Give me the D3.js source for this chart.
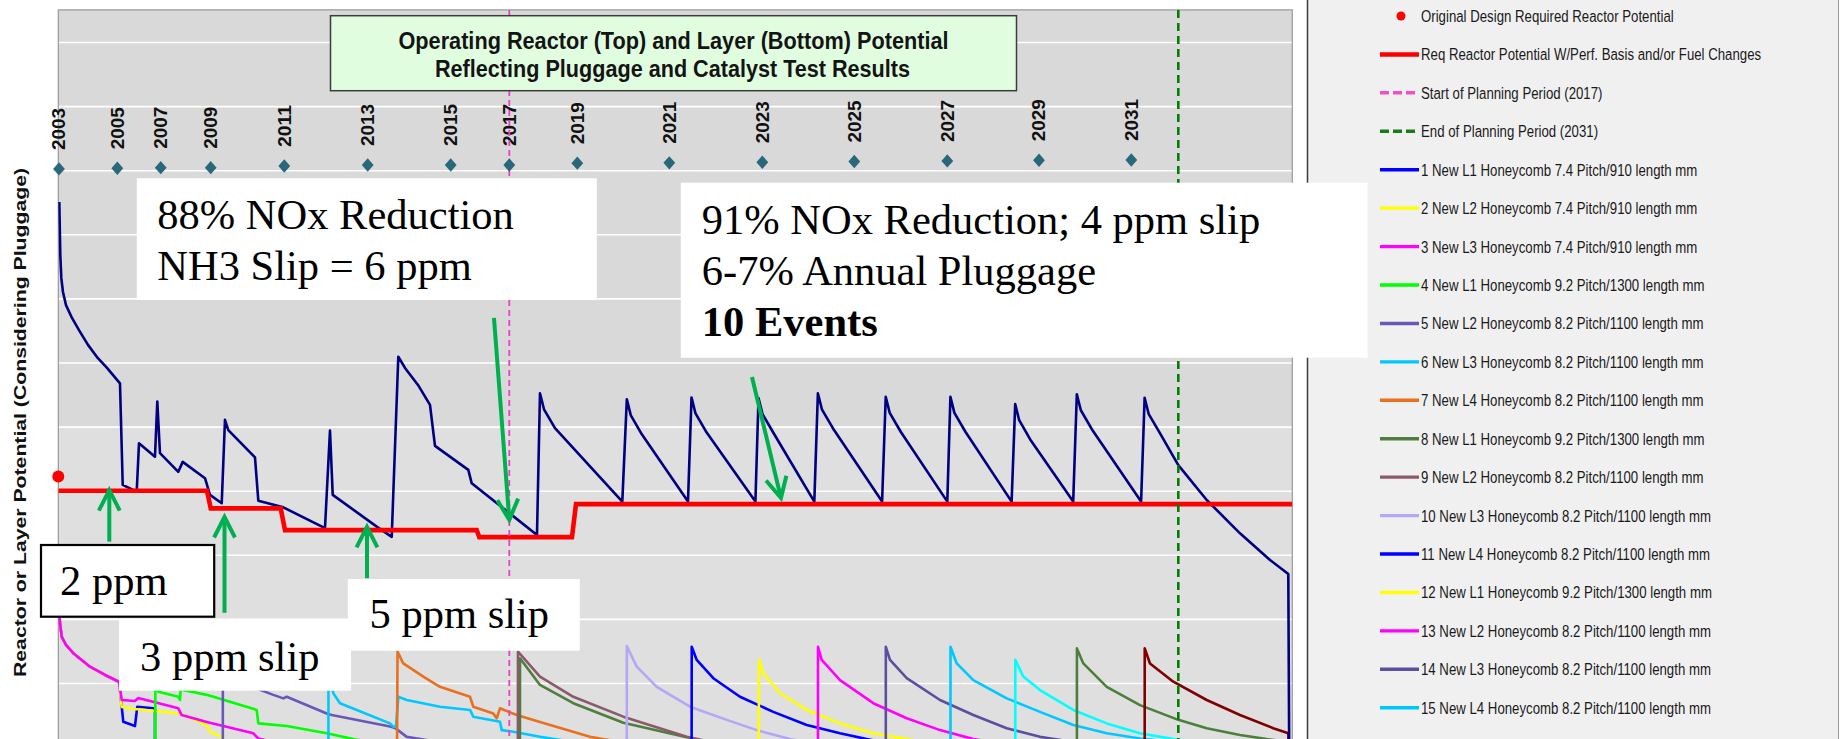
<!DOCTYPE html>
<html>
<head>
<meta charset="utf-8">
<script src="https://cdn.jsdelivr.net/npm/d3@7/dist/d3.min.js"></script>
<style>
  html, body { margin:0; padding:0; background:#ffffff; overflow:hidden; }
  svg { display:block; }
</style>
</head>
<body>
<svg id="chart" width="1843" height="739"></svg>
<script>
// ---------------- DATA (x = cumulative operating hours, y = potential) ----------------
const yearLabels = ["2003","2005","2007","2009","2011","2013","2015","2017","2019","2021","2023","2025","2027","2029","2031"];
const yearHours = [130, 11210, 19460, 28960, 42940, 58790, 74560, 85690, 98610, 116090, 133760, 151240, 168910, 186330, 203870];
const yearMarkerPotential = [2.004, 2.006, 2.008, 2.008, 2.013, 2.016, 2.016, 2.016, 2.022, 2.023, 2.025, 2.027, 2.029, 2.031, 2.032];

const gridTicks = [0.2, 0.4, 0.6, 0.8, 1.0, 1.2, 1.4, 1.6, 1.8, 2.0, 2.2, 2.4];

const planningStartHours = 85690;
const planningEndHours = 212800;

const originalDesign = [[0, 1.044]];

const requiredPotential = [[0,1.0],[28250,1.0],[28960,0.945],[42260,0.945],[43070,0.877],[79500,0.877],[79990,0.855],[97600,0.855],[98360,0.958],[234460,0.958]];

const reactorPotential = [[190,1.901],[380,1.735],[570,1.664],[890,1.620],[1460,1.579],[2600,1.539],[3930,1.501],[5640,1.455],[7350,1.417],[9250,1.383],[11720,1.335],[12240,1.018],[14900,0.997],[15330,1.148],[18370,1.106],[18810,1.278],[19320,1.117],[22800,1.059],[23640,1.090],[27870,1.039],[28820,0.987],[31050,0.961],[31670,1.221],[32300,1.189],[37370,1.104],[38000,0.969],[42750,0.948],[50670,0.883],[51620,1.188],[52140,0.987],[60500,0.888],[63350,0.856],[64600,1.418],[65870,1.383],[68340,1.330],[70620,1.268],[71570,1.140],[77900,1.065],[78550,1.023],[90950,0.862],[91520,1.304],[92280,1.254],[94370,1.195],[107160,0.966],[108020,1.285],[108780,1.235],[110870,1.176],[119640,0.966],[120310,1.291],[121070,1.241],[123160,1.182],[132450,0.966],[133040,1.289],[133800,1.239],[135890,1.180],[143640,0.966],[144320,1.304],[145080,1.254],[147170,1.195],[156520,0.966],[157210,1.293],[157970,1.243],[160060,1.184],[168910,0.966],[169500,1.293],[170260,1.243],[172350,1.184],[181130,0.966],[181810,1.270],[182570,1.220],[184660,1.160],[192830,0.966],[193520,1.301],[194280,1.251],[196370,1.192],[205730,0.966],[206400,1.290],[207160,1.240],[209250,1.181],[212800,1.080],[218200,0.971],[224520,0.867],[230220,0.784],[233700,0.740],[233930,0]];

const layer1 = [[0,0.625],[190,0.606],[650,0.544],[1460,0.519],[2850,0.493],[6020,0.451],[8870,0.425],[11530,0.404],[12050,0.326],[12350,0.279],[14570,0.266],[15010,0.326],[18050,0.321],[18370,0.316],[18380,0]];
const layer2 = [[0,0.625],[190,0.606],[650,0.544],[1460,0.519],[2850,0.493],[6020,0.451],[8870,0.425],[11530,0.404],[12050,0.325],[14570,0.319],[18180,0.313],[23120,0.305],[28200,0.269],[28820,0.248],[31050,0.232],[31240,0.232],[31250,0]];
const layer3 = [[0,0.625],[190,0.606],[650,0.544],[1460,0.519],[2850,0.493],[6020,0.451],[8870,0.425],[11530,0.404],[12050,0.347],[14570,0.344],[15200,0.353],[22800,0.321],[23450,0.300],[28200,0.278],[37050,0.243],[38000,0.227],[45920,0.197],[51300,0.175],[51310,0]];
const layer4 = [[18370,0],[18470,0.519],[18750,0.425],[19000,0.373],[22800,0.357],[23120,0.347],[23310,0.391],[23690,0.378],[28200,0.363],[37700,0.316],[38000,0.274],[43400,0.266],[51000,0.243],[56050,0.225],[64920,0.197],[78220,0.166],[87690,0.144],[87700,0]];
const layer5 = [[31250,0],[31270,0.503],[32300,0.466],[34520,0.422],[37700,0.383],[40850,0.363],[42750,0.352],[43400,0.357],[51000,0.305],[51950,0.300],[63020,0.264],[63970,0.260],[66200,0.232],[74420,0.210],[87300,0.175],[87305,0]];
const layer6 = [[51310,0],[51340,0.487],[51810,0.409],[52250,0.368],[53520,0.337],[56700,0.316],[63020,0.274],[63650,0.264],[64160,0.264],[64600,0.357],[66200,0.347],[72520,0.326],[78220,0.316],[78850,0.295],[83920,0.279],[84250,0.253],[86450,0.248],[91520,0.232],[108000,0.191],[108010,0]];
const layer7 = [[64300,0],[64450,0.498],[65550,0.461],[69350,0.420],[72520,0.388],[78220,0.357],[78850,0.326],[82650,0.305],[83300,0.290],[83920,0.321],[87100,0.300],[91520,0.278],[101020,0.232],[106720,0.216],[120310,0.160],[120320,0]];
const layer8 = [[87700,0],[87720,0.477],[91520,0.394],[97850,0.337],[107350,0.276],[119400,0.231],[125720,0.207],[133040,0.185],[133050,0]];
const layer9 = [[87310,0],[87340,0.498],[91520,0.420],[97850,0.357],[107350,0.295],[119400,0.232],[131420,0.191],[144320,0.160],[144330,0]];
const layer10 = [[108010,0],[108020,0.515],[109900,0.451],[113700,0.388],[120020,0.326],[127000,0.285],[132700,0.253],[139020,0.225],[148520,0.197],[157210,0.178],[157220,0]];
const layer11 = [[120320,0],[120350,0.513],[121300,0.472],[124450,0.415],[129520,0.357],[135850,0.310],[142200,0.269],[148520,0.243],[153600,0.225],[161820,0.200],[169500,0.185],[169510,0]];
const layer12 = [[133050,0],[133130,0.474],[133950,0.430],[137120,0.368],[142200,0.316],[148520,0.274],[154850,0.243],[161200,0.225],[171320,0.200],[181810,0.185],[181820,0]];
const layer13 = [[144330,0],[144340,0.513],[145050,0.472],[148520,0.409],[154850,0.337],[161200,0.290],[167520,0.253],[173850,0.225],[184620,0.197],[193520,0.182],[193530,0]];
const layer14 = [[157220,0],[157230,0.513],[158020,0.472],[161200,0.415],[167520,0.347],[173850,0.300],[180200,0.259],[186520,0.232],[197920,0.203],[206400,0.188],[206410,0]];
const layer15 = [[169510,0],[169520,0.513],[170700,0.461],[173850,0.409],[180200,0.352],[186520,0.310],[192850,0.269],[199200,0.243],[205520,0.227],[216920,0.207],[233930,0.182],[233940,0]];
const layer16 = [[181820,0],[181830,0.472],[183350,0.420],[186520,0.378],[192850,0.316],[199200,0.274],[205520,0.243],[211850,0.225],[222620,0.203],[233930,0.188],[233940,0]];
const layer17 = [[193530,0],[193540,0.508],[194750,0.461],[199200,0.388],[205520,0.331],[212800,0.285],[218200,0.259],[224520,0.238],[229600,0.225],[233930,0.216],[233940,0]];
const layer18 = [[206410,0],[206420,0.508],[207420,0.461],[211850,0.404],[218200,0.347],[224520,0.300],[230850,0.259],[233700,0.243],[233930,0]];

const layerNames = [
  "1 New L1 Honeycomb 7.4 Pitch/910 length mm",
  "2 New L2 Honeycomb 7.4 Pitch/910 length mm",
  "3 New L3 Honeycomb 7.4 Pitch/910 length mm",
  "4 New L1 Honeycomb 9.2 Pitch/1300 length mm",
  "5 New L2 Honeycomb 8.2 Pitch/1100 length mm",
  "6 New L3 Honeycomb 8.2 Pitch/1100 length mm",
  "7 New L4 Honeycomb 8.2 Pitch/1100 length mm",
  "8 New L1 Honeycomb 9.2 Pitch/1300 length mm",
  "9 New L2 Honeycomb 8.2 Pitch/1100 length mm",
  "10 New L3 Honeycomb 8.2 Pitch/1100 length mm",
  "11 New L4 Honeycomb 8.2 Pitch/1100 length mm",
  "12 New L1 Honeycomb 9.2 Pitch/1300 length mm",
  "13 New L2 Honeycomb 8.2 Pitch/1100 length mm",
  "14 New L3 Honeycomb 8.2 Pitch/1100 length mm",
  "15 New L4 Honeycomb 8.2 Pitch/1100 length mm",
  "16 New L1 Honeycomb 9.2 Pitch/1300 length mm",
  "17 New L2 Honeycomb 8.2 Pitch/1100 length mm",
  "18 New L3 Honeycomb 8.2 Pitch/1100 length mm"
];
const layerData = [layer1,layer2,layer3,layer4,layer5,layer6,layer7,layer8,layer9,layer10,layer11,layer12,layer13,layer14,layer15,layer16,layer17,layer18];

// annotation arrows (data units)
const arrowTails = [[9690,0.841],[31580,0.619],[58650,0.727],[82780,1.539],[131800,1.355]];
const arrowTips  = [[9690,1.002],[31580,0.918],[58650,0.887],[85690,0.909],[137310,0.977]];

// ---------------- STYLE / LAYOUT ----------------
const layerColors = ["#0000ff","#ffff00","#ff00ff","#00ff00","#6a58b6","#00c8ff","#e8701e","#4e7e3e","#8b5a6a","#b4a7f5","#0000ff","#ffff00","#ff00ff","#5b4f9e","#00c8ff","#00ffff","#4e7e3e","#800000"];
const plotLeft = 58.3, plotRight = 1292.3, plotTop = 9.95, plotBottom = 811.2;
const legendVisibleRows = 20; // the last one is cut by the bottom edge, as in the reference

const x = d3.scaleLinear().domain([0, 234460]).range([plotLeft, plotRight]);
const y = d3.scaleLinear().domain([0, 2.5]).range([plotBottom, plotTop]);

const svg = d3.select("#chart");
svg.append("rect").attr("width",1843).attr("height",739).attr("fill","#ffffff");

const defs = svg.append("defs");
defs.append("clipPath").attr("id","plotClip").append("rect")
  .attr("x",plotLeft).attr("y",plotTop).attr("width",plotRight-plotLeft).attr("height",plotBottom-plotTop);

// plot background (lower part slightly lighter)
svg.append("rect").attr("x",plotLeft).attr("y",plotTop)
  .attr("width",plotRight-plotLeft).attr("height",plotBottom-plotTop).attr("fill","#d9d9d9");
svg.append("rect").attr("x",plotLeft).attr("y",y(1.2))
  .attr("width",plotRight-plotLeft).attr("height",plotBottom-y(1.2)).attr("fill","#dfdfdf");

// gridlines
const grid = svg.append("g").attr("transform",`translate(${plotLeft},0)`)
  .call(d3.axisLeft(y).tickValues(gridTicks).tickSize(-(plotRight-plotLeft)).tickFormat(""));
grid.select(".domain").remove();
grid.selectAll(".tick line").attr("stroke","#ffffff").attr("stroke-width",1.6);

// plot border
svg.append("path").attr("d",`M${plotLeft},${plotBottom}V${plotTop}H${plotRight}V${plotBottom}`)
  .attr("fill","none").attr("stroke","#9a9a9a").attr("stroke-width",1.2);

const line = d3.line().x(d => x(d[0])).y(d => y(d[1]));
const plotG = svg.append("g").attr("clip-path","url(#plotClip)");

// layer lines
layerData.forEach((d,i) => {
  plotG.append("path").datum(d).attr("d",line)
    .attr("fill","none").attr("stroke",layerColors[i]).attr("stroke-width",2.6)
    .attr("stroke-linejoin","round");
});

// reactor potential
plotG.append("path").datum(reactorPotential).attr("d",line)
  .attr("fill","none").attr("stroke","#000080").attr("stroke-width",2.6).attr("stroke-linejoin","round");

// required potential
plotG.append("path").datum(requiredPotential).attr("d",line)
  .attr("fill","none").attr("stroke","#ff0000").attr("stroke-width",4.6);

// original design dot
svg.selectAll(".orig").data(originalDesign).enter().append("circle")
  .attr("cx",d=>x(d[0])).attr("cy",d=>y(d[1])).attr("r",6).attr("fill","#ff0000");

// year labels (rotated)
const labF = 18.5, labS = 0.95;
svg.selectAll(".yl").data(yearLabels).enter().append("text")
  .attr("transform",(d,i)=>`translate(${x(yearHours[i]) + labS*0.358*labF},${y(yearMarkerPotential[i]) - 19}) scale(${labS},1) rotate(-90)`)
  .attr("font-family","Liberation Sans, Arial, sans-serif").attr("font-weight","bold")
  .attr("font-size",labF).attr("textLength",42).attr("lengthAdjust","spacingAndGlyphs")
  .attr("fill","#111").text(d=>d);

// planning lines
svg.append("line").attr("x1",x(planningStartHours)).attr("x2",x(planningStartHours))
  .attr("y1",plotTop).attr("y2",plotBottom)
  .attr("stroke","#f03cc8").attr("stroke-width",1.8).attr("stroke-dasharray","6,4");
svg.append("line").attr("x1",x(planningEndHours)).attr("x2",x(planningEndHours))
  .attr("y1",plotTop).attr("y2",plotBottom)
  .attr("stroke","#008000").attr("stroke-width",2.6).attr("stroke-dasharray","8,5");

// year diamonds
svg.selectAll(".yd").data(yearHours).enter().append("path")
  .attr("d","M0,-6.7L5.9,0L0,6.7L-5.9,0Z")
  .attr("transform",(d,i)=>`translate(${x(d)},${y(yearMarkerPotential[i])})`)
  .attr("fill","#29677a");

// title box
const tb = svg.append("g");
tb.append("rect").attr("x",330.5).attr("y",15.7).attr("width",686).attr("height",75)
  .attr("fill","#e0fde0").attr("stroke","#3c3c3c").attr("stroke-width",1.5);
tb.append("text").attr("x",673.5).attr("y",48.5).attr("text-anchor","middle")
  .attr("font-family","Liberation Sans, Arial, sans-serif").attr("font-weight","bold").attr("font-size",23.5)
  .attr("textLength",550).attr("lengthAdjust","spacingAndGlyphs").attr("fill","#141414")
  .text("Operating Reactor (Top) and Layer (Bottom) Potential");
tb.append("text").attr("x",672.5).attr("y",77).attr("text-anchor","middle")
  .attr("font-family","Liberation Sans, Arial, sans-serif").attr("font-weight","bold").attr("font-size",23.5)
  .attr("textLength",475).attr("lengthAdjust","spacingAndGlyphs").attr("fill","#141414")
  .text("Reflecting Pluggage and Catalyst Test Results");

// legend panel
const lg = svg.append("g");
lg.append("rect").attr("x",1307.5).attr("y",-2).attr("width",531).attr("height",745).attr("fill","#f0f0f0");
lg.append("line").attr("x1",1307.5).attr("x2",1307.5).attr("y1",0).attr("y2",739).attr("stroke","#3a3a3a").attr("stroke-width",1.5);
lg.append("line").attr("x1",1838.5).attr("x2",1838.5).attr("y1",0).attr("y2",739).attr("stroke","#9a9a9a").attr("stroke-width",1);

const legendItems = [
  {label:"Original Design Required Reactor Potential", kind:"dot", color:"#ff0000"},
  {label:"Req Reactor Potential W/Perf. Basis and/or Fuel Changes", kind:"line", color:"#ff0000", w:4.6},
  {label:"Start of Planning Period (2017)", kind:"dash", color:"#f050c8", w:3.5},
  {label:"End of Planning Period (2031)", kind:"dash", color:"#1a7a1a", w:3.5}
].concat(layerNames.map((n,i)=>({label:n, kind:"line", color:layerColors[i], w:3.4})))
 .slice(0, legendVisibleRows);

legendItems.forEach((it,i) => {
  const cy = 16 + 38.43*i;
  if (it.kind === "dot") {
    lg.append("circle").attr("cx",1401).attr("cy",cy).attr("r",4.5).attr("fill",it.color);
  } else {
    lg.append("line").attr("x1",1380).attr("x2",1419).attr("y1",cy).attr("y2",cy)
      .attr("stroke",it.color).attr("stroke-width",it.w)
      .attr("stroke-dasharray", it.kind==="dash" ? "9,4" : null);
  }
  lg.append("text").attr("transform",`translate(1421,${cy+6}) scale(0.778,1)`)
    .attr("font-family","Liberation Sans, Arial, sans-serif").attr("font-size",17).attr("fill","#1a1a1a")
    .text(it.label);
});

// y axis title
svg.append("text")
  .attr("transform","translate(26,422.5) scale(0.82,1) rotate(-90)")
  .attr("text-anchor","middle")
  .attr("font-family","Liberation Sans, Arial, sans-serif").attr("font-weight","bold").attr("font-size",21)
  .attr("textLength",509).attr("lengthAdjust","spacingAndGlyphs").attr("fill","#111")
  .text("Reactor or Layer Potential (Considering Pluggage)");

// annotation boxes
const serif = "Liberation Serif, Times New Roman, serif";
const boxes = [
  {x:136.8, y:178.3, w:460, h:121.7, border:false, lines:[{t:"88% NOx Reduction", b:229.3},{t:"NH3 Slip = 6 ppm", b:280}], tx:157.3},
  {x:680.8, y:182.7, w:686.8, h:175, border:false, lines:[{t:"91% NOx Reduction; 4 ppm slip", b:233.5},{t:"6-7% Annual Pluggage", b:285},{t:"10 Events", b:335.5, bold:true}], tx:701.8},
  {x:41, y:545, w:173.2, h:71.7, border:true, lines:[{t:"2 ppm", b:595}], tx:60},
  {x:119, y:619.3, w:232, h:71.4, border:false, lines:[{t:"3 ppm slip", b:670.7}], tx:140},
  {x:347.8, y:579, w:232, h:71.7, border:false, lines:[{t:"5 ppm slip", b:628.3}], tx:369.6}
];
boxes.forEach(bx => {
  const g = svg.append("g");
  g.append("rect").attr("x",bx.x).attr("y",bx.y).attr("width",bx.w).attr("height",bx.h)
    .attr("fill","#ffffff").attr("stroke",bx.border ? "#000" : "none").attr("stroke-width",2.2);
  bx.lines.forEach(l => {
    g.append("text").attr("x",bx.tx).attr("y",l.b)
      .attr("font-family",serif).attr("font-size",42.5).attr("font-weight",l.bold?"bold":"normal")
      .attr("fill","#000").text(l.t);
  });
});

// arrows
const ag = svg.append("g").attr("stroke","#00b050").attr("stroke-width",4).attr("fill","none");
arrowTails.forEach((tl,i) => {
  const x1 = x(tl[0]), y1 = y(tl[1]), x2 = x(arrowTips[i][0]), y2 = y(arrowTips[i][1]);
  ag.append("line").attr("x1",x1).attr("y1",y1).attr("x2",x2).attr("y2",y2);
  const ang = Math.atan2(y1-y2, x1-x2);
  const L = 23, a = 27*Math.PI/180;
  const p1 = [x2 + L*Math.cos(ang+a), y2 + L*Math.sin(ang+a)];
  const p2 = [x2 + L*Math.cos(ang-a), y2 + L*Math.sin(ang-a)];
  ag.append("path").attr("d",`M${p1[0]},${p1[1]}L${x2},${y2}L${p2[0]},${p2[1]}`).attr("stroke-linejoin","miter");
});
</script>
</body>
</html>
